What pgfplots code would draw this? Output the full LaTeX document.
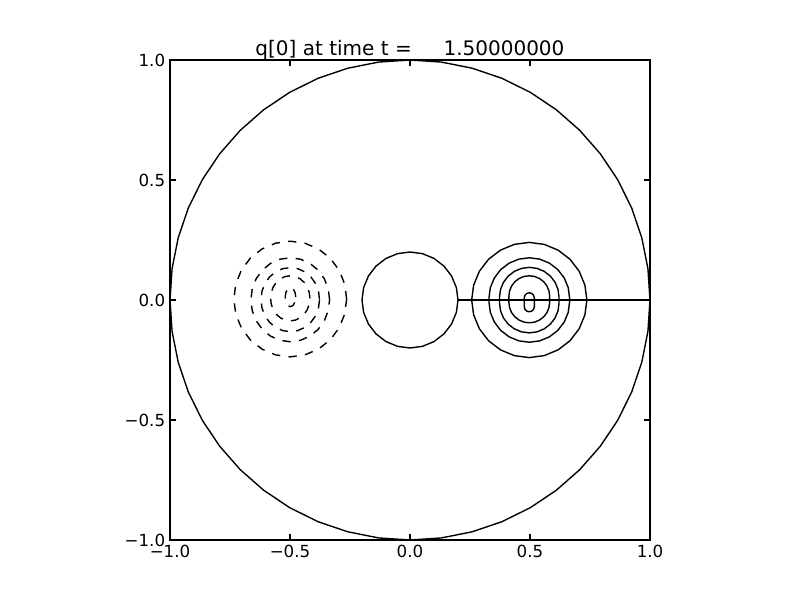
\documentclass[border=0pt]{standalone}
\usepackage{fontspec}
\setmainfont{DejaVu Sans}
\usepackage{pgfplots}
\pgfplotsset{compat=1.18}
\begin{document}
\begin{tikzpicture}
\useasboundingbox (-122.4bp,-43.2bp) rectangle (453.6bp,388.8bp);
\begin{axis}[
  scale only axis, width=345.6bp, height=345.6bp,
  xmin=-1, xmax=1, ymin=-1, ymax=1,
  xtick={-1,-0.5,0,0.5,1}, ytick={-1,-0.5,0,0.5,1},
  xticklabels={−1.0,−0.5,0.0,0.5,1.0},
  yticklabels={−1.0,−0.5,0.0,0.5,1.0},
  tick align=inside, major tick length=4bp,
  tick style={black, line width=0.8bp},
  axis line style={line width=1bp},
  ticklabel style={font=\fontsize{12bp}{14bp}\selectfont},
  title={q[0] at time t =~~~~~1.50000000},
  title style={font=\fontsize{14.4bp}{17bp}\selectfont, yshift=-9bp},
  every axis plot/.append style={black, line width=1bp, no marks, line join=round},
]
% outer boundary circle r=1
\addplot[sharp plot] coordinates {
 (1,0) (.9914,.1305) (.9659,.2588) (.9239,.3827) (.8660,.5) (.7934,.6088) (.7071,.7071) (.6088,.7934) (.5,.8660) (.3827,.9239) (.2588,.9659) (.1305,.9914) (0,1)
 (-.1305,.9914) (-.2588,.9659) (-.3827,.9239) (-.5,.8660) (-.6088,.7934) (-.7071,.7071) (-.7934,.6088) (-.8660,.5) (-.9239,.3827) (-.9659,.2588) (-.9914,.1305) (-1,0)
 (-.9914,-.1305) (-.9659,-.2588) (-.9239,-.3827) (-.8660,-.5) (-.7934,-.6088) (-.7071,-.7071) (-.6088,-.7934) (-.5,-.8660) (-.3827,-.9239) (-.2588,-.9659) (-.1305,-.9914) (0,-1)
 (.1305,-.9914) (.2588,-.9659) (.3827,-.9239) (.5,-.8660) (.6088,-.7934) (.7071,-.7071) (.7934,-.6088) (.8660,-.5) (.9239,-.3827) (.9659,-.2588) (.9914,-.1305) (1,0)};
% inner circle r=0.2
\addplot[sharp plot] coordinates {
 (.2,0) (.1932,.0518) (.1732,.1) (.1414,.1414) (.1,.1732) (.0518,.1932) (0,.2)
 (-.0518,.1932) (-.1,.1732) (-.1414,.1414) (-.1732,.1) (-.1932,.0518) (-.2,0)
 (-.1932,-.0518) (-.1732,-.1) (-.1414,-.1414) (-.1,-.1732) (-.0518,-.1932) (0,-.2)
 (.0518,-.1932) (.1,-.1732) (.1414,-.1414) (.1732,-.1) (.1932,-.0518) (.2,0)};
% cut line
\addplot[] coordinates {(0.2,0.003) (1,0.003)};
\addplot[] coordinates {(0.2,-0.003) (1,-0.003)};
% dashed contours (negative)
\addplot[dash pattern=on 6bp off 6bp] coordinates {
 (-0.264,0.004) (-0.272,0.0664) (-0.2955,0.1245) (-0.3328,0.1744) (-0.3815,0.2127) (-0.4382,0.2368)
 (-0.499,0.245) (-0.5598,0.2368) (-0.6165,0.2127) (-0.6652,0.1744) (-0.7025,0.1245) (-0.726,0.0664)
 (-0.734,0.004) (-0.726,-0.0584) (-0.7025,-0.1165) (-0.6652,-0.1664) (-0.6165,-0.2047) (-0.5598,-0.2288)
 (-0.499,-0.237) (-0.4382,-0.2288) (-0.3815,-0.2047) (-0.3328,-0.1664) (-0.2955,-0.1165) (-0.272,-0.0584) (-0.264,0.004)};
\addplot[dash pattern=on 6bp off 6bp] coordinates {
 (-0.335,0.001) (-0.3406,0.0463) (-0.357,0.0885) (-0.383,0.1247) (-0.417,0.1526) (-0.4566,0.170)
 (-0.499,0.176) (-0.5414,0.170) (-0.581,0.1526) (-0.615,0.1247) (-0.641,0.0885) (-0.6574,0.0463)
 (-0.663,0.001) (-0.6574,-0.0443) (-0.641,-0.0865) (-0.615,-0.1227) (-0.581,-0.1506) (-0.5414,-0.168)
 (-0.499,-0.174) (-0.4566,-0.168) (-0.417,-0.1506) (-0.383,-0.1227) (-0.357,-0.0865) (-0.3406,-0.0443) (-0.335,0.001)};
\addplot[dash pattern=on 6bp off 6bp] coordinates {
 (-0.377,0.0015) (-0.3812,0.0361) (-0.3933,0.0683) (-0.4127,0.0959) (-0.438,0.1171) (-0.4674,0.1304)
 (-0.499,0.135) (-0.5306,0.1304) (-0.56,0.1171) (-0.5853,0.0959) (-0.6047,0.0683) (-0.6168,0.0361)
 (-0.621,0.0015) (-0.6168,-0.0331) (-0.6047,-0.0653) (-0.5853,-0.0929) (-0.56,-0.1141) (-0.5306,-0.1274)
 (-0.499,-0.132) (-0.4674,-0.1274) (-0.438,-0.1141) (-0.4127,-0.0929) (-0.3933,-0.0653) (-0.3812,-0.0331) (-0.377,0.0015)};
\addplot[dash pattern=on 6bp off 6bp] coordinates {
 (-0.417,0.007) (-0.4198,0.0313) (-0.428,0.054) (-0.441,0.0735) (-0.458,0.0884) (-0.4778,0.0978)
 (-0.499,0.101) (-0.5202,0.0978) (-0.54,0.0884) (-0.557,0.0735) (-0.57,0.054) (-0.5782,0.0313)
 (-0.581,0.007) (-0.5782,-0.0173) (-0.57,-0.04) (-0.557,-0.0595) (-0.54,-0.0744) (-0.5202,-0.0838)
 (-0.499,-0.087) (-0.4778,-0.0838) (-0.458,-0.0744) (-0.441,-0.0595) (-0.428,-0.04) (-0.4198,-0.0173) (-0.417,0.007)};
\addplot[dash pattern=on 6bp off 6bp] coordinates {
 (-0.476,0.012) (-0.479,0.032) (-0.487,0.0466) (-0.498,0.052) (-0.509,0.0466) (-0.517,0.032)
 (-0.520,0.012) (-0.517,-0.008) (-0.509,-0.0226) (-0.498,-0.028) (-0.487,-0.0226) (-0.479,-0.008) (-0.476,0.012)};
% solid contours (positive)
\addplot[] coordinates {
 (0.737,0) (0.7288,0.0621) (0.7048,0.12) (0.6667,0.1697) (0.617,0.2078) (0.5591,0.2318)
 (0.497,0.24) (0.4349,0.2318) (0.377,0.2078) (0.3273,0.1697) (0.2892,0.12) (0.2652,0.0621)
 (0.257,0) (0.2652,-0.0621) (0.2892,-0.12) (0.3273,-0.1697) (0.377,-0.2078) (0.4349,-0.2318)
 (0.497,-0.24) (0.5591,-0.2318) (0.617,-0.2078) (0.6667,-0.1697) (0.7048,-0.12) (0.7288,-0.0621) (0.737,0)};
\addplot[] coordinates {
 (0.665,0.008) (0.6593,0.0515) (0.6425,0.092) (0.6158,0.1268) (0.581,0.1535) (0.5405,0.1703)
 (0.497,0.176) (0.4535,0.1703) (0.413,0.1535) (0.3782,0.1268) (0.3515,0.092) (0.3347,0.0515) (0.329,0.008)
 (0.329,-0.008) (0.3347,-0.0515) (0.3515,-0.092) (0.3782,-0.1268) (0.413,-0.1535) (0.4535,-0.1703)
 (0.497,-0.176) (0.5405,-0.1703) (0.581,-0.1535) (0.6158,-0.1268) (0.6425,-0.092) (0.6593,-0.0515) (0.665,-0.008) (0.665,0.008)};
\addplot[] coordinates {
 (0.621,0.012) (0.6168,0.0441) (0.6044,0.074) (0.5847,0.0997) (0.559,0.1194) (0.5291,0.1318)
 (0.497,0.136) (0.4649,0.1318) (0.435,0.1194) (0.4093,0.0997) (0.3896,0.074) (0.3772,0.0441) (0.373,0.012)
 (0.373,-0.013) (0.3772,-0.0451) (0.3896,-0.075) (0.4093,-0.1007) (0.435,-0.1204) (0.4649,-0.1328)
 (0.497,-0.137) (0.5291,-0.1328) (0.559,-0.1204) (0.5847,-0.1007) (0.6044,-0.075) (0.6168,-0.0451) (0.621,-0.013) (0.621,0.012)};
\addplot[] coordinates {
 (0.582,0.016) (0.579,0.038) (0.5706,0.0585) (0.5571,0.0761) (0.5395,0.0896) (0.519,0.0981)
 (0.497,0.101) (0.475,0.0981) (0.4545,0.0896) (0.4369,0.0761) (0.4234,0.0585) (0.415,0.038) (0.412,0.016)
 (0.412,-0.01) (0.415,-0.032) (0.4234,-0.0525) (0.4369,-0.0701) (0.4545,-0.0836) (0.475,-0.0921)
 (0.497,-0.095) (0.519,-0.0921) (0.5395,-0.0836) (0.5571,-0.0701) (0.5706,-0.0525) (0.579,-0.032) (0.582,-0.01) (0.582,0.016)};
\addplot[] coordinates {
 (0.518,0.009) (0.5152,0.0195) (0.5075,0.0272) (0.497,0.030) (0.4865,0.0272) (0.4788,0.0195) (0.476,0.009)
 (0.476,-0.028) (0.4788,-0.0385) (0.4865,-0.0462) (0.497,-0.049) (0.5075,-0.0462) (0.5152,-0.0385) (0.518,-0.028) (0.518,0.009)};
\end{axis}
\end{tikzpicture}
\end{document}
